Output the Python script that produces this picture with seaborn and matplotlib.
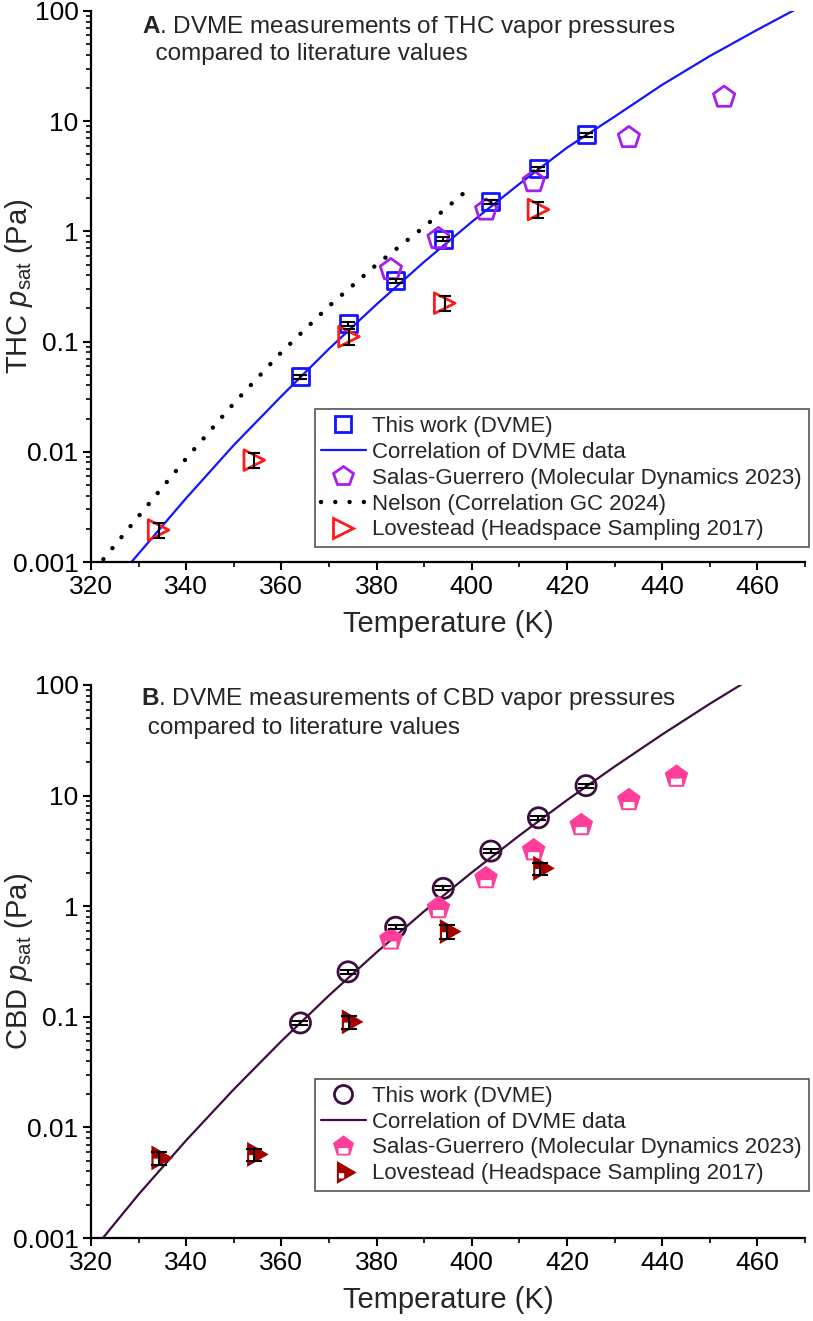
import numpy as np
import pandas as pd
import matplotlib
matplotlib.use("Agg")
import matplotlib.pyplot as plt
from matplotlib.path import Path
from matplotlib.lines import Line2D
from matplotlib.ticker import MultipleLocator, FixedLocator, FixedFormatter, LogLocator, NullFormatter
import seaborn as sns

# ---- panel A: THC ----
thc_dvme_T = [364, 374, 384, 394, 404, 414, 424]
thc_dvme_p = [0.048, 0.145, 0.355, 0.85, 1.86, 3.7, 7.5]
thc_dvme_err = [0.002, 0.006, 0.015, 0.035, 0.08, 0.15, 0.3]

thc_corr_T = [328.5, 340, 350, 360, 370, 380, 390, 400, 410, 420, 430, 440, 450, 460, 470]
thc_corr_p = [0.001, 0.0038, 0.0115, 0.032, 0.086, 0.218, 0.53, 1.22, 2.7, 5.75, 11.0, 21.4, 39, 67.6, 115]

thc_salas_T = [383, 393, 403, 413, 433, 453]
thc_salas_p = [0.45, 0.86, 1.56, 2.82, 7.1, 16.5]

thc_nelson_T = [322.6, 330, 340, 350, 360, 370, 380, 390, 398.4]
thc_nelson_p = [0.00106, 0.0026, 0.0087, 0.0275, 0.080, 0.21, 0.50, 1.10, 2.24]

thc_love_T = [334.2, 354.3, 374.2, 394.3, 414]
thc_love_p = [0.00195, 0.0084, 0.111, 0.223, 1.58]
thc_love_err = [0.0003, 0.0013, 0.018, 0.035, 0.26]

# ---- panel B: CBD ----
cbd_dvme_T = [364, 374, 384, 394, 404, 414, 424]
cbd_dvme_p = [0.088, 0.255, 0.645, 1.45, 3.15, 6.3, 12.3]
cbd_dvme_err = [0.004, 0.01, 0.025, 0.06, 0.12, 0.25, 0.5]

cbd_corr_T = [322.5, 330, 340, 350, 360, 370, 380, 390, 400, 410, 420, 430, 440, 450, 460]
cbd_corr_p = [0.001, 0.00248, 0.00764, 0.0221, 0.0603, 0.156, 0.383, 0.90, 2.02, 4.36, 9.1, 18.3, 35.7, 67.6, 124]

cbd_salas_T = [383, 393, 403, 413, 423, 433, 443]
cbd_salas_p = [0.50, 0.96, 1.79, 3.2, 5.4, 9.1, 14.8]

cbd_love_T = [334.2, 354.3, 374.2, 394.8, 414.4]
cbd_love_p = [0.0053, 0.0057, 0.090, 0.59, 2.2]
cbd_love_err = [0.0007, 0.0007, 0.012, 0.08, 0.28]

ytick_vals = [0.001, 0.01, 0.1, 1, 10, 100]
ytick_text = ["0.001", "0.01", "0.1", "1", "10", "100"]
xtick_vals = [320, 340, 360, 380, 400, 420, 440, 460]

sns.set_theme(style="ticks")
plt.rcParams["font.family"] = ["Liberation Sans", "DejaVu Sans"]
plt.rcParams["mathtext.fontset"] = "custom"
plt.rcParams["mathtext.rm"] = "Liberation Sans"
plt.rcParams["mathtext.it"] = "Liberation Sans:italic"
plt.rcParams["mathtext.bf"] = "Liberation Sans:bold"


def holed(outer, hole):
    verts = list(outer) + [outer[0]] + list(hole[::-1]) + [hole[-1]]
    codes = ([Path.MOVETO] + [Path.LINETO] * (len(outer) - 1) + [Path.CLOSEPOLY]
             + [Path.MOVETO] + [Path.LINETO] * (len(hole) - 1) + [Path.CLOSEPOLY])
    return Path(verts, codes)


ang = np.deg2rad(90 + 72 * np.arange(5))
pent = list(zip(np.cos(ang), np.sin(ang)))
pent_marker = holed(pent, [(-0.45, -0.65), (0.45, -0.65), (0.45, -0.15), (-0.45, -0.15)])
tri = [(1, 0), (-0.5, 0.866), (-0.5, -0.866)]
tri_marker = holed(tri, [(-0.35, -0.45), (0.05, -0.45), (0.05, -0.05), (-0.35, -0.05)])

BLUE = "#1414ff"
PURPLE = "#a51ff0"
RED = "#ff1a1a"
DARK = "#3d0d40"
PINK = "#ff3d9a"
DRED = "#a30000"
DOTS = (0, (0.01, 3.2))

fig = plt.figure(figsize=(8.13, 13.21), dpi=100)
axA = fig.add_axes([91 / 813, 759 / 1321, 714 / 813, 551 / 1321])
axB = fig.add_axes([91 / 813, 83 / 1321, 714 / 813, 553 / 1321])


def errs(ax, T, p, e, cap):
    ax.errorbar(T, p, yerr=e, fmt="none", ecolor="black", elinewidth=1.5,
                capsize=cap, capthick=1.5, zorder=5)


# panel A
sns.lineplot(x=thc_corr_T, y=thc_corr_p, ax=axA, color=BLUE, lw=1.6, sort=False, estimator=None, zorder=2)
sns.lineplot(x=thc_nelson_T, y=thc_nelson_p, ax=axA, color="black", lw=3.2, sort=False, estimator=None,
             dashes=False, zorder=2)
axA.lines[-1].set_linestyle(DOTS)
axA.lines[-1].set_dash_capstyle("round")
sns.scatterplot(x=thc_dvme_T, y=thc_dvme_p, ax=axA, marker="s", s=150, facecolor="none",
                edgecolor=BLUE, linewidth=2.0, zorder=3)
sns.scatterplot(x=thc_salas_T, y=thc_salas_p, ax=axA, marker="p", s=260, facecolor="none",
                edgecolor=PURPLE, linewidth=2.0, zorder=3)
sns.scatterplot(x=thc_love_T, y=thc_love_p, ax=axA, marker=">", s=220, facecolor="none",
                edgecolor=RED, linewidth=2.0, zorder=3)
errs(axA, thc_dvme_T, thc_dvme_p, thc_dvme_err, 5)
errs(axA, thc_love_T, thc_love_p, thc_love_err, 4)

# panel B
sns.lineplot(x=cbd_corr_T, y=cbd_corr_p, ax=axB, color=DARK, lw=1.6, sort=False, estimator=None, zorder=2)
sns.scatterplot(x=cbd_dvme_T, y=cbd_dvme_p, ax=axB, marker="o", s=210, facecolor="none",
                edgecolor=DARK, linewidth=2.0, zorder=3)
sns.scatterplot(x=cbd_salas_T, y=cbd_salas_p, ax=axB, marker=pent_marker, s=320, color=PINK,
                edgecolor="none", linewidth=0, zorder=3)
sns.scatterplot(x=cbd_love_T, y=cbd_love_p, ax=axB, marker=tri_marker, s=430, color=DRED,
                edgecolor="none", linewidth=0, zorder=3)
errs(axB, cbd_dvme_T, cbd_dvme_p, cbd_dvme_err, 6)
errs(axB, cbd_love_T, cbd_love_p, cbd_love_err, 6)

for ax, comp in [(axA, "THC"), (axB, "CBD")]:
    ax.set_yscale("log")
    ax.set_ylim(0.001, 100)
    ax.set_xlim(320, 470)
    ax.xaxis.set_major_locator(FixedLocator(xtick_vals))
    ax.xaxis.set_minor_locator(MultipleLocator(10))
    ax.yaxis.set_major_locator(FixedLocator(ytick_vals))
    ax.yaxis.set_major_formatter(FixedFormatter(ytick_text))
    ax.yaxis.set_minor_locator(LogLocator(base=10, subs=np.arange(2, 10)))
    ax.yaxis.set_minor_formatter(NullFormatter())
    for s in ["top", "right"]:
        ax.spines[s].set_visible(False)
    for s in ["left", "bottom"]:
        ax.spines[s].set_linewidth(1.6)
        ax.spines[s].set_color("black")
    ax.tick_params(which="major", direction="out", length=6, width=1.5, labelsize=19, colors="black", pad=3)
    ax.tick_params(which="minor", direction="out", length=3.5, width=1.2, colors="black")
    ax.set_xlabel("Temperature (K)", fontsize=21, labelpad=8)
    ax.set_ylabel(comp + r" $p_{\mathrm{sat}}$ (Pa)", fontsize=21)
    ax.yaxis.set_label_coords(-0.078, 0.5)

axA.text(0.0714, 0.960, r"$\mathbf{A}$. DVME measurements of THC vapor pressures", transform=axA.transAxes,
         fontsize=17.5, va="baseline", ha="left")
axA.text(0.0714, 0.911, "  compared to literature values", transform=axA.transAxes,
         fontsize=17.5, va="baseline", ha="left")
axB.text(0.0700, 0.964, r"$\mathbf{B}$. DVME measurements of CBD vapor pressures", transform=axB.transAxes,
         fontsize=17.5, va="baseline", ha="left")
axB.text(0.0700, 0.911, " compared to literature values", transform=axB.transAxes,
         fontsize=17.5, va="baseline", ha="left")

handlesA = [
    Line2D([], [], ls="none", marker="s", ms=12, mfc="none", mec=BLUE, mew=2.0),
    Line2D([], [], color=BLUE, lw=1.6),
    Line2D([], [], ls="none", marker="p", ms=15, mfc="none", mec=PURPLE, mew=2.0),
    Line2D([], [], color="black", lw=3.2, ls=DOTS, dash_capstyle="round"),
    Line2D([], [], ls="none", marker=">", ms=14, mfc="none", mec=RED, mew=2.0),
]
labelsA = ["This work (DVME)", "Correlation of DVME data", "Salas-Guerrero (Molecular Dynamics 2023)",
           "Nelson (Correlation GC 2024)", "Lovestead (Headspace Sampling 2017)"]
handlesB = [
    Line2D([], [], ls="none", marker="o", ms=13, mfc="none", mec=DARK, mew=2.0),
    Line2D([], [], color=DARK, lw=1.6),
    Line2D([], [], ls="none", marker=pent_marker, ms=16, mfc=PINK, mec="none"),
    Line2D([], [], ls="none", marker=tri_marker, ms=19, mfc=DRED, mec="none"),
]
labelsB = ["This work (DVME)", "Correlation of DVME data", "Salas-Guerrero (Molecular Dynamics 2023)",
           "Lovestead (Headspace Sampling 2017)"]

for ax, h, l, y0 in [(axA, handlesA, labelsA, 0.027), (axB, handlesB, labelsB, 0.085)]:
    leg = ax.legend(h, l, loc="lower right", bbox_to_anchor=(1.005, y0), borderaxespad=0,
                    fontsize=16, frameon=True, fancybox=False, framealpha=1, edgecolor="#555555",
                    handlelength=2.0, handletextpad=0.3, labelspacing=0.22, borderpad=0.3)
    leg.get_frame().set_linewidth(1.2)

fig.savefig("out.png", dpi=100)
